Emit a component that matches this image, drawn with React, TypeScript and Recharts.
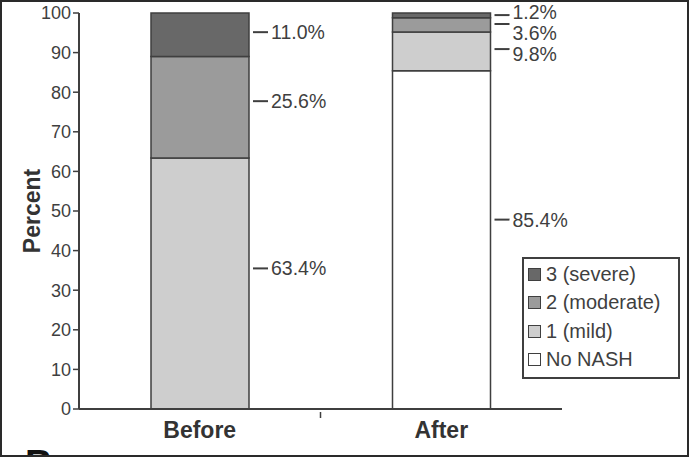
import { BarChart, Bar, XAxis, YAxis, Legend, LabelList } from "recharts";

const CATEGORIES = ["Before", "After"];
const NO_NASH = [0, 85.4];
const MILD = [63.4, 9.8];
const MODERATE = [25.6, 3.6];
const SEVERE = [11.0, 1.2];
const Y_TICKS = [0, 10, 20, 30, 40, 50, 60, 70, 80, 90, 100];

const INK = "#3f3f3f";
const FONT = "'Liberation Sans', Arial, Helvetica, sans-serif";
const LABEL_POS = 0.44; // label sits a bit above the middle of each segment
const MIN_GAP = 5.4; // minimum label spacing, in percent units

const SERIES = [
  { key: "noNash", name: "No NASH", color: "#ffffff", values: NO_NASH },
  { key: "mild", name: "1 (mild)", color: "#cecece", values: MILD },
  { key: "moderate", name: "2 (moderate)", color: "#9b9b9b", values: MODERATE },
  { key: "severe", name: "3 (severe)", color: "#686868", values: SEVERE },
];

const data = CATEGORIES.map((name, i) => {
  const row: Record<string, string | number> = { name };
  SERIES.forEach((s) => (row[s.key] = s.values[i]));
  return row;
});

// spread labels of thin segments so their texts don't collide
const textShift: Record<string, number[]> = {};
SERIES.forEach((s) => (textShift[s.key] = CATEGORIES.map(() => 0)));
CATEGORIES.forEach((_, i) => {
  let top = SERIES.reduce((acc, s) => acc + s.values[i], 0);
  let prev = Infinity;
  [...SERIES].reverse().forEach((s, j) => {
    const v = s.values[i];
    const anchor = top - v * LABEL_POS;
    top -= v;
    if (!v) return;
    // the top label may rise a little above its dash
    const placed = j === 0 && v < 3 ? anchor + 0.9 : Math.min(anchor, prev - MIN_GAP);
    textShift[s.key][i] = anchor - placed;
    prev = placed;
  });
});

function makeLabel(key: string) {
  return function SegmentLabel(props: any) {
    const { x, y, width, height, value, index } = props;
    if (!value) return null;
    const right = Number(x) + Number(width);
    const ly = Number(y) + Number(height) * LABEL_POS;
    const pxPerUnit = Number(height) / Number(value);
    const ty = ly + (textShift[key][index] || 0) * pxPerUnit;
    return (
      <g>
        <line x1={right + 4} x2={right + 19} y1={ly} y2={ly} stroke={INK} strokeWidth={2} />
        <text x={right + 22} y={ty} dominantBaseline="central" fontSize={19.5} fill={INK} fontFamily={FONT}>
          {`${Number(value).toFixed(1)}%`}
        </text>
      </g>
    );
  };
}

function CategoryTick(props: any) {
  const { x, y, payload, index } = props;
  const half = payload && payload.offset ? payload.offset : 120.75;
  return (
    <g>
      {index === 0 && (
        <line x1={x + half} x2={x + half} y1={y - 5} y2={y + 1} stroke={INK} strokeWidth={1.5} />
      )}
      <text
        x={x}
        y={y + 5}
        dy="0.71em"
        textAnchor="middle"
        fontSize={23}
        fontWeight={700}
        fill="#333"
        fontFamily={FONT}
      >
        {payload.value}
      </text>
    </g>
  );
}

function LegendBox() {
  return (
    <div
      style={{
        border: `2px solid ${INK}`,
        width: 150,
        padding: "1px 0 3px 4px",
        fontFamily: FONT,
        fontSize: 20,
        color: INK,
        background: "#fff",
      }}
    >
      {[...SERIES].reverse().map((s) => (
        <div key={s.key} style={{ display: "flex", alignItems: "center", height: 28.5 }}>
          <span
            style={{
              width: 11,
              height: 11,
              background: s.color,
              border: `1px solid ${INK}`,
              marginRight: 5,
              display: "inline-block",
            }}
          />
          {s.name}
        </div>
      ))}
    </div>
  );
}

export default function App() {
  return (
    <div
      style={{
        position: "absolute",
        left: 0,
        top: 0,
        width: 689,
        height: 457,
        overflow: "hidden",
        background: "#fff",
      }}
    >
      <BarChart
        width={689}
        height={457}
        data={data}
        margin={{ top: 13, right: 127, left: 39, bottom: 18 }}
        barSize={98}
      >
        <XAxis
          dataKey="name"
          height={30}
          axisLine={{ stroke: INK, strokeWidth: 2 }}
          tickLine={false}
          tick={<CategoryTick />}
        />
        <YAxis
          width={40}
          domain={[0, 100]}
          ticks={Y_TICKS}
          interval={0}
          axisLine={{ stroke: INK, strokeWidth: 2 }}
          tickLine={{ stroke: INK, strokeWidth: 1.5 }}
          tickSize={6}
          tick={{ fontSize: 18, fill: INK, fontFamily: FONT }}
          label={(p: any) => {
            const vb = p.viewBox || {};
            const cx = vb.x - 7;
            const cy = vb.y + vb.height / 2;
            return (
              <text
                x={cx}
                y={cy}
                transform={`rotate(-90, ${cx}, ${cy})`}
                textAnchor="middle"
                dominantBaseline="central"
                fontSize={23}
                fontWeight={700}
                fill="#333"
                fontFamily={FONT}
              >
                Percent
              </text>
            );
          }}
        />
        {SERIES.map((s) => (
          <Bar
            key={s.key}
            dataKey={s.key}
            name={s.name}
            stackId="a"
            fill={s.color}
            stroke={INK}
            strokeWidth={1.5}
            isAnimationActive={false}
          >
            <LabelList dataKey={s.key} content={makeLabel(s.key)} />
          </Bar>
        ))}
        <Legend
          layout="vertical"
          align="center"
          verticalAlign="middle"
          content={() => <LegendBox />}
          wrapperStyle={{ left: 522, top: 257, width: "auto" }}
        />
      </BarChart>
      <div
        style={{
          position: "absolute",
          left: 25,
          top: 445,
          fontFamily: FONT,
          fontWeight: 700,
          fontSize: 38,
          color: "#111",
          lineHeight: 1,
        }}
      >
        B
      </div>
      <div
        style={{
          position: "absolute",
          inset: 0,
          border: "2px solid #2a2a2a",
          pointerEvents: "none",
        }}
      />
    </div>
  );
}
